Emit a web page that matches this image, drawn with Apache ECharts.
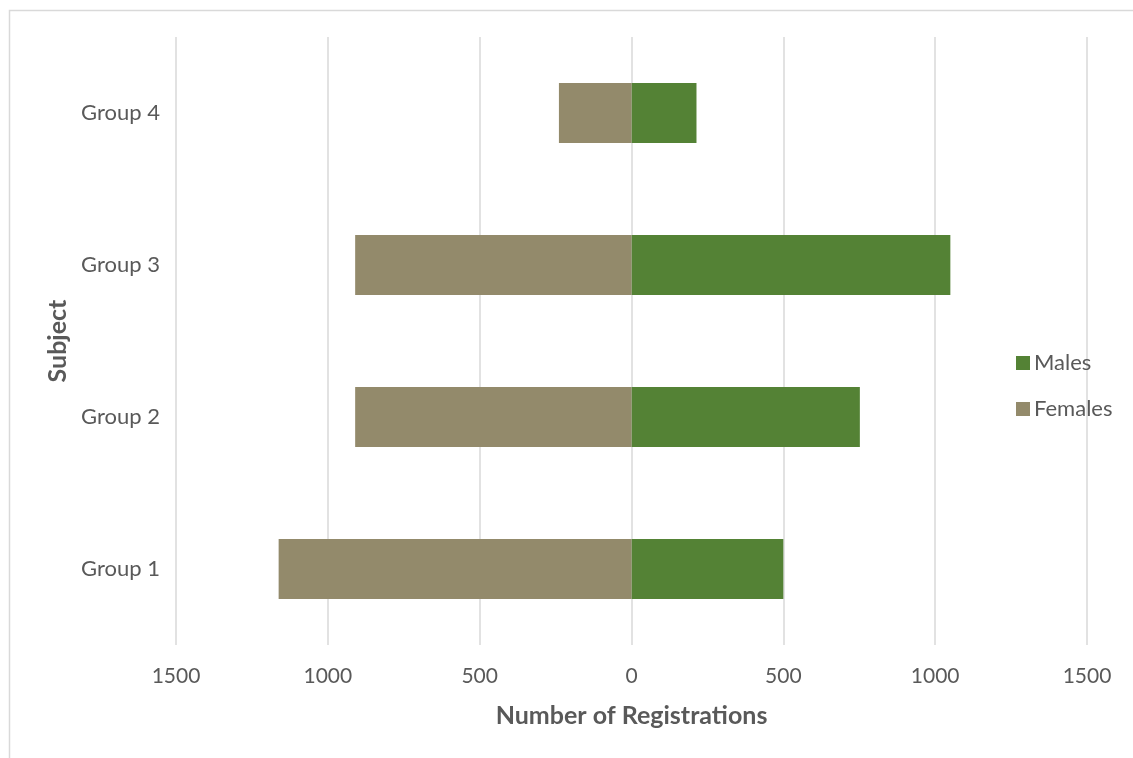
<!DOCTYPE html>
<html>
<head>
<meta charset="utf-8">
<script src="https://cdn.jsdelivr.net/npm/echarts@6/dist/echarts.min.js"></script>
<style>html,body{margin:0;padding:0;background:#fff;}#c{width:1133px;height:758px;}</style>
</head>
<body>
<div id="c"></div>
<script>
const categories = ['Group 1', 'Group 2', 'Group 3', 'Group 4'];
const males = [500, 752, 1050, 214];
const females = [1162, 910, 910, 239];
const xTicks = [-1500, -1000, -500, 0, 500, 1000, 1500];

const FONT = 'Lato';
const chart = echarts.init(document.getElementById('c'), null, {renderer: 'canvas'});
chart.setOption({
  animation: false,
  backgroundColor: '#ffffff',
  textStyle: {fontFamily: FONT},
  graphic: [{
    type: 'rect', left: 7, top: 8,
    shape: {x: 0, y: 0, width: 1140, height: 760},
    style: {fill: 'none', stroke: '#d9d9d9', lineWidth: 1.5},
    silent: true, z: -1
  }],
  grid: {left: 176, right: 46, top: 37, bottom: 113, containLabel: false},
  legend: {
    orient: 'vertical', left: 1011, top: 347, itemGap: 24,
    itemWidth: 14, itemHeight: 14, icon: 'rect',
    data: ['Males', 'Females'],
    textStyle: {fontFamily: FONT, fontSize: 22, color: '#595959', padding: [0, 0, 0, -1]}
  },
  xAxis: {
    type: 'value', min: xTicks[0], max: xTicks[xTicks.length - 1], interval: 500,
    name: 'Number of Registrations', nameLocation: 'middle', nameGap: 58,
    nameTextStyle: {fontFamily: FONT, fontSize: 25, fontWeight: 'bold', color: '#595959'},
    axisLine: {show: false}, axisTick: {show: false},
    axisLabel: {fontFamily: FONT, fontSize: 21, color: '#595959', margin: 21,
      formatter: v => String(Math.abs(v))},
    splitLine: {show: true, lineStyle: {color: '#d9d9d9', width: 1.5}}
  },
  yAxis: {
    type: 'category', data: categories,
    name: 'Subject', nameLocation: 'middle', nameGap: 106,
    nameTextStyle: {fontFamily: FONT, fontSize: 25, fontWeight: 'bold', color: '#595959'},
    axisLine: {show: false}, axisTick: {show: false},
    axisLabel: {fontFamily: FONT, fontSize: 22, color: '#595959', margin: 16},
    splitLine: {show: false}
  },
  series: [
    {name: 'Males', type: 'bar', stack: 'total', data: males, barWidth: 60,
      itemStyle: {color: '#548235'}},
    {name: 'Females', type: 'bar', stack: 'total', data: females.map(v => -v), barWidth: 60,
      itemStyle: {color: '#938A6B'}}
  ]
});
</script>
</body>
</html>
